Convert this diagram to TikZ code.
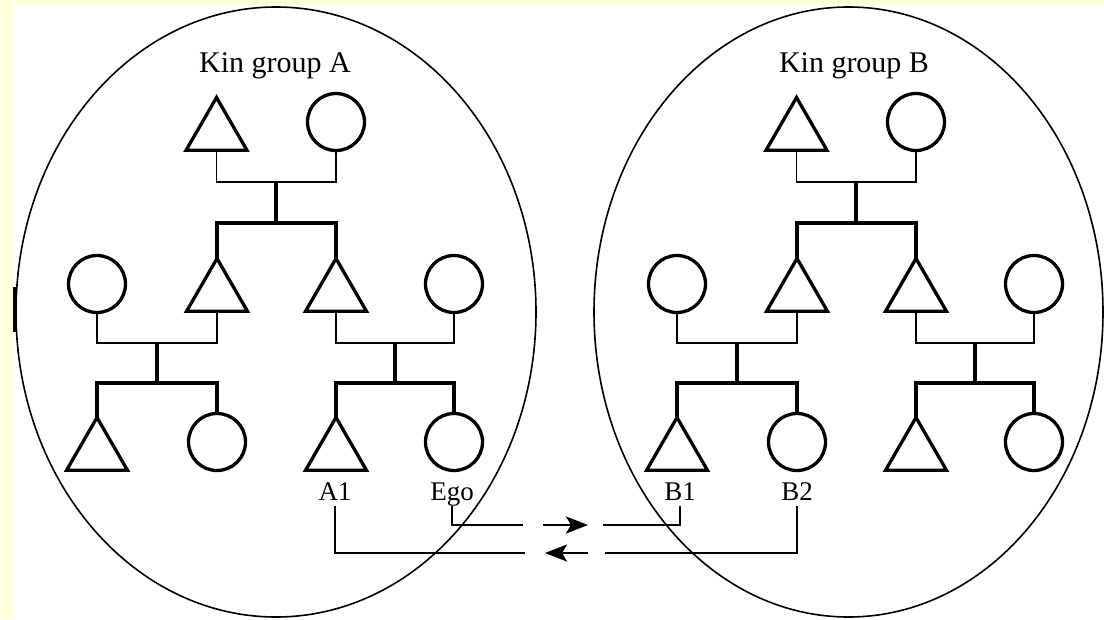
\documentclass[tikz,border=0pt]{standalone}
\usepackage{fontspec}
\setmainfont{Liberation Serif}
\usetikzlibrary{shapes.geometric,arrows.meta}
\definecolor{paper}{RGB}{255,255,220}

\begin{document}
\begin{tikzpicture}[x=1pt,y=-1pt,
    male/.style={draw,regular polygon,regular polygon sides=3,minimum size=70.4pt,inner sep=0pt,outer sep=0pt,line width=3.3pt},
    female/.style={draw,circle,minimum size=57pt,inner sep=0pt,outer sep=0pt,line width=3.3pt},
    kinlabel/.style={anchor=base,inner sep=0pt,font=\fontsize{30}{36}\selectfont},
    namelabel/.style={anchor=base,inner sep=0pt,outer sep=6pt,text depth=0pt,font=\fontsize{27}{32}\selectfont},
    tieline/.style={line width=1.6pt},
    stemline/.style={line width=3.3pt},
    tradearrow/.style={line width=2.8pt,-{Stealth[length=22pt,width=17pt,inset=5pt]}}]
  \useasboundingbox (0,0) rectangle (1104,619);
  \fill[paper] (0,0) rectangle (1104,619);
  \fill[white] (12.7,5) rectangle (1104,619);
  \draw[line width=3pt] (14,287) -- (14,332);
  % the two kin groups
  \draw[line width=1.6pt] (276,312) ellipse [x radius=260,y radius=305];
  \draw[line width=1.6pt] (848.5,312) ellipse [x radius=254.5,y radius=305];
  \draw
    (275,72) node[kinlabel] (tA){Kin group A}
    (216.5,132.7) node[male] (a1){}
    (336,122) node[female] (a2){}
    (97,284) node[female] (a3){}
    (217,293.7) node[male] (a4){}
    (336,293.7) node[male] (a5){}
    (454,284) node[female] (a6){}
    (97,452.7) node[male] (a7){}
    (217,442) node[female] (a8){}
    (336,452.7) node[male] (a9){}
    (454,442) node[female] (a10){}
    (335,500) node[namelabel] (lA1){A1}
    (452,500) node[namelabel] (lEgo){Ego};
  \draw
    (854,72) node[kinlabel] (tB){Kin group B}
    (796.5,132.7) node[male] (b1){}
    (916,122) node[female] (b2){}
    (677,284) node[female] (b3){}
    (797,293.7) node[male] (b4){}
    (916,293.7) node[male] (b5){}
    (1034,284) node[female] (b6){}
    (677,452.7) node[male] (b7){}
    (797,442) node[female] (b8){}
    (916,452.7) node[male] (b9){}
    (1034,442) node[female] (b10){}
    (680,500) node[namelabel] (lB1){B1}
    (797,500) node[namelabel] (lB2){B2};
  % junctions
  \coordinate (ja1) at (276,182);
  \coordinate (ka1) at (276,223);
  \coordinate (ja2) at (157,343);
  \coordinate (ka2) at (157,383);
  \coordinate (ja3) at (395,343);
  \coordinate (ka3) at (395,383);
  \coordinate (jb1) at (856,182);
  \coordinate (kb1) at (856,223);
  \coordinate (jb2) at (737,343);
  \coordinate (kb2) at (737,383);
  \coordinate (jb3) at (975,343);
  \coordinate (kb3) at (975,383);
  \begin{scope}[tieline]
    \draw (a1.south) |- (ja1) -| (a2.south);
    \draw (a3.south) |- (ja2) -| (a4.south);
    \draw (a5.south) |- (ja3) -| (a6.south);
    \draw (b1.south) |- (jb1) -| (b2.south);
    \draw (b3.south) |- (jb2) -| (b4.south);
    \draw (b5.south) |- (jb3) -| (b6.south);
  \end{scope}
  \begin{scope}[stemline]
    \draw (ja1) -- (ka1);
    \draw (a4.north) |- (ka1) -| (a5.north);
    \draw (ja2) -- (ka2);
    \draw (a7.north) |- (ka2) -| (a8.north);
    \draw (ja3) -- (ka3);
    \draw (a9.north) |- (ka3) -| (a10.north);
    \draw (jb1) -- (kb1);
    \draw (b4.north) |- (kb1) -| (b5.north);
    \draw (jb2) -- (kb2);
    \draw (b7.north) |- (kb2) -| (b8.north);
    \draw (jb3) -- (kb3);
    \draw (b9.north) |- (kb3) -| (b10.north);
  \end{scope}
  % exchange between the groups
  \coordinate (x1) at (523,525);
  \coordinate (x2) at (543,525);
  \coordinate (x3) at (588,525);
  \coordinate (x4) at (603,525);
  \coordinate (y1) at (605,553);
  \coordinate (y2) at (588,553);
  \coordinate (y3) at (545,553);
  \coordinate (y4) at (525,553);
  \draw[tieline] (lEgo.south) |- (x1);
  \draw[tradearrow] (x2) -- (x3);
  \draw[tieline] (x4) -| (lB1.south);
  \draw[tieline] (lB2.south) |- (y1);
  \draw[tradearrow] (y2) -- (y3);
  \draw[tieline] (y4) -| (lA1.south);
\end{tikzpicture}
\end{document}
